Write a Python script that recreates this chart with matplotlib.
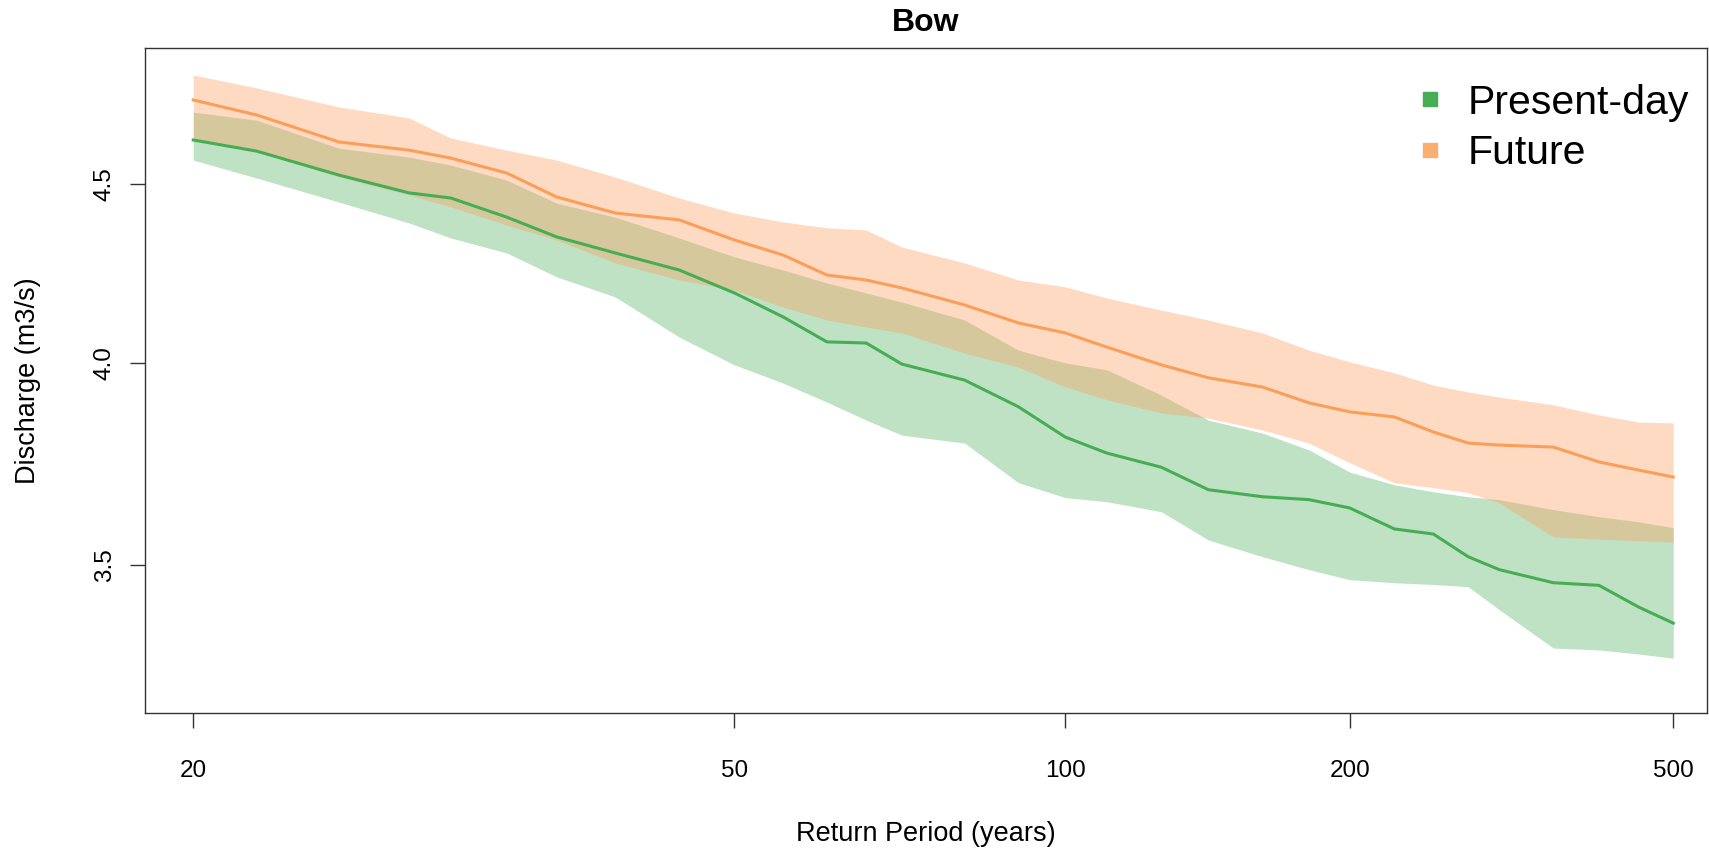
import numpy as np
import matplotlib
matplotlib.use('Agg')
import matplotlib.pyplot as plt
from matplotlib.lines import Line2D
from matplotlib.ticker import FixedLocator, FixedFormatter, NullLocator

plt.rcParams['font.family'] = ['Liberation Sans', 'DejaVu Sans']

# Return periods (years)
period = [20, 22, 25, 28, 30, 33, 36, 40, 45, 50, 55, 60, 65, 70, 80, 90, 100,
          110, 125, 140, 160, 180, 200, 225, 250, 275, 300, 350, 400, 450, 500]

# Present-day discharge: central estimate and band
present = [4.634, 4.600, 4.528, 4.475, 4.460, 4.404, 4.347, 4.301, 4.253, 4.189,
           4.123, 4.056, 4.053, 3.997, 3.955, 3.886, 3.809, 3.769, 3.734, 3.679,
           3.662, 3.655, 3.635, 3.585, 3.573, 3.520, 3.490, 3.460, 3.454, 3.405, 3.369]
present_hi = [4.720, 4.695, 4.609, 4.582, 4.558, 4.513, 4.445, 4.404, 4.344, 4.290,
              4.253, 4.217, 4.189, 4.164, 4.115, 4.034, 4.000, 3.982, 3.916, 3.852,
              3.819, 3.777, 3.722, 3.691, 3.674, 3.662, 3.655, 3.631, 3.614, 3.602, 3.588]
present_lo = [4.573, 4.519, 4.448, 4.387, 4.344, 4.301, 4.234, 4.178, 4.069, 3.995,
              3.947, 3.898, 3.852, 3.814, 3.794, 3.696, 3.660, 3.650, 3.626, 3.559,
              3.520, 3.490, 3.467, 3.460, 3.456, 3.451, 3.399, 3.314, 3.310, 3.301, 3.292]

# Future discharge: central estimate and band
future = [4.758, 4.711, 4.628, 4.603, 4.579, 4.534, 4.463, 4.416, 4.396, 4.338,
          4.295, 4.239, 4.225, 4.203, 4.156, 4.107, 4.080, 4.042, 3.995, 3.961,
          3.937, 3.896, 3.873, 3.860, 3.822, 3.794, 3.789, 3.784, 3.747, 3.727, 3.710]
future_hi = [4.837, 4.796, 4.736, 4.702, 4.640, 4.603, 4.573, 4.522, 4.460, 4.416,
             4.390, 4.373, 4.367, 4.318, 4.273, 4.225, 4.206, 4.175, 4.142, 4.115,
             4.080, 4.034, 4.003, 3.974, 3.942, 3.924, 3.911, 3.891, 3.865, 3.847, 3.845]
future_lo = [4.634, 4.600, 4.522, 4.469, 4.434, 4.381, 4.338, 4.273, 4.225, 4.197,
             4.150, 4.115, 4.096, 4.080, 4.026, 3.989, 3.937, 3.904, 3.870, 3.857,
             3.827, 3.794, 3.745, 3.696, 3.684, 3.672, 3.647, 3.566, 3.561, 3.557, 3.554]

xticks = [20, 50, 100, 200, 500]
yticks = [3.5, 4.0, 4.5]
ytick_labels = ['3.5', '4.0', '4.5']

green = '#47AD54'
orange = '#FA9F5A'

fig = plt.figure(figsize=(17.09, 8.5), dpi=100)
ax = fig.add_axes([145/1709, 1-713/850, (1707-145)/1709, (713-48)/850])

# return period axis is drawn on a log(log(T)) scale
def fwd(x):
    with np.errstate(invalid='ignore', divide='ignore'):
        return np.log(np.log(x))

def inv(y):
    return np.exp(np.exp(y))

ax.set_xscale('function', functions=(fwd, inv))
ax.set_yscale('log')

ax.fill_between(period, present_lo, present_hi, color=green, alpha=0.35, lw=0)
ax.plot(period, present, color=green, lw=2.2)
ax.fill_between(period, future_lo, future_hi, color='#FDA060', alpha=0.38, lw=0)
ax.plot(period, future, color=orange, lw=2.2)

ax.set_xlim(18.64, 555)
ax.set_ylim(3.175, 4.924)

ax.xaxis.set_major_locator(FixedLocator(xticks))
ax.xaxis.set_major_formatter(FixedFormatter([str(v) for v in xticks]))
ax.xaxis.set_minor_locator(NullLocator())
ax.yaxis.set_major_locator(FixedLocator(yticks))
ax.yaxis.set_major_formatter(FixedFormatter(ytick_labels))
ax.yaxis.set_minor_locator(NullLocator())

ax.tick_params(axis='x', length=11, width=1, pad=23, labelsize=17.5, color='#333333')
ax.tick_params(axis='y', length=11, width=1, pad=10, labelsize=17.5, color='#333333',
               labelrotation=90)
for lab in ax.get_yticklabels():
    lab.set_va('center')

for sp in ax.spines.values():
    sp.set_linewidth(1.0)
    sp.set_color('#333333')

ax.set_title('Bow', fontsize=23, fontweight='bold', pad=12)
ax.set_xlabel('Return Period (years)', fontsize=19.5, labelpad=28)
ax.set_ylabel('Discharge (m3/s)', fontsize=19.5, labelpad=38)

handles = [Line2D([], [], marker='s', ls='', ms=9.5, color=green),
           Line2D([], [], marker='s', ls='', ms=9.5, color='#FBAE72')]
ax.legend(handles, ['Present-day', 'Future'], loc='upper right',
          bbox_to_anchor=(1.0, 0.974), frameon=False,
          fontsize=29.5, handlelength=0.8, handletextpad=0.5, labelspacing=0.3,
          borderaxespad=0.15, borderpad=0.3)

fig.savefig('out.png', dpi=100)
